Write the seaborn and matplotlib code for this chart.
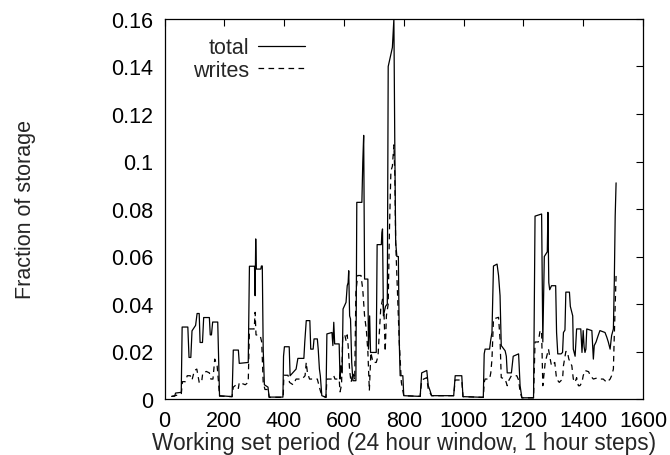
import matplotlib
matplotlib.use("Agg")
import matplotlib.pyplot as plt
import seaborn as sns
import pandas as pd

# Working set size per 24-hour window (sampled every hour), as a fraction of storage
total_hours = [
    24, 34, 37, 56,
    59, 78, 82, 88, 92, 104, 109, 116, 119, 127, 131, 150, 153, 157, 161, 178, 184, 226,
    230, 247, 250, 280,
    284, 301, 303, 305, 307, 322, 324, 327, 330, 334, 346, 350, 396,
    398, 401, 417, 420, 440, 446, 466, 469, 474, 486, 489, 497, 500, 511, 514, 518, 521, 526, 540,
    543, 560, 563, 566, 569, 584, 587, 590, 594, 597, 607, 611, 614, 616, 619, 622, 626, 630, 640,
    643, 660, 663, 666, 669, 680, 682, 686, 689, 708,
    711, 725, 727, 729, 732, 739, 745, 748, 755, 762, 767, 770, 773, 777, 782, 785, 788, 797, 800,
    855, 860, 877, 882, 888, 893, 967, 972, 994, 998, 1066,
    1069, 1072, 1087, 1091, 1095, 1100, 1112, 1117, 1122, 1126, 1139, 1143, 1146, 1160, 1166, 1184, 1189, 1195, 1234,
    1239, 1261, 1265, 1270, 1280, 1282, 1285, 1288, 1294, 1308, 1311, 1315, 1326, 1331, 1334, 1339, 1342, 1354,
    1357, 1362, 1365, 1367, 1373, 1378, 1392, 1396, 1400, 1403, 1406, 1409, 1412, 1429, 1434, 1437, 1443, 1450,
    1456, 1473, 1479, 1484, 1490, 1495, 1501, 1504, 1507, 1510,
]
total_frac = [
    .0011, .0012, .0025, .0028,
    .0303, .0303, .0175, .0175, .0287, .031, .036, .036, .0238, .0238, .0343, .0343, .027, .027, .0324, .0324, .0014, .001,
    .0206, .0206, .015, .0154,
    .0559, .0559, .0435, .0674, .0547, .0547, .056, .056, .021, .006, .005, .0008, .0008,
    .018, .022, .022, .0098, .0126, .0171, .0171, .0239, .033, .033, .021, .021, .0253, .0253, .021, .0126, .0098, .0014, .0007,
    .0274, .028, .0225, .0323, .0232, .0232, .0084, .014, .011, .0379, .0407, .0477, .049, .054, .035, .0337, .0154, .0077, .0077,
    .0828, .0828, .0996, .111, .0505, .0505, .021, .035, .0196, .0196,
    .065, .065, .070, .0716, .035, .039, .040, .140, .144, .148, .160, .108, .066, .060, .060, .024, .0098, .0098, .0014,
    .0011, .011, .012, .0056, .0035, .0014, .0014, .0098, .0098, .001, .0007,
    .019, .021, .021, .025, .028, .056, .0568, .052, .0435, .0225, .0203, .018, .011, .011, .018, .019, .0056, .0005, .0005,
    .077, .0779, .024, .060, .062, .0786, .049, .046, .0477, .0477, .028, .019, .019, .0196, .028, .029, .045, .045,
    .039, .0365, .035, .021, .018, .0295, .0295, .0196, .0288, .022, .0196, .021, .0295, .0288, .0168, .0225, .024, .0267,
    .0288, .028, .026, .024, .021, .0267, .0295, .049, .077, .091,
]

write_hours = [
    24, 56, 60, 70, 76, 86, 92, 100, 108, 116, 124, 128, 140, 150, 155, 162, 168, 176, 180, 184, 226,
    230, 240, 247, 250, 270, 280,
    284, 300, 303, 306, 320, 325, 330, 336, 346, 350, 397,
    399, 413, 418, 430, 440, 460, 470, 474, 478, 485, 500, 511, 520, 526, 540,
    543, 560, 566, 570, 584, 587, 592, 596, 603, 607, 611, 614, 619, 624, 630, 636, 640, 646, 657, 663,
    669, 675, 680, 685, 690, 697, 708, 714, 717, 723, 729, 734, 738, 742, 748, 752, 757, 762, 767, 770,
    773, 778, 785, 792, 800,
    855, 860, 877, 882, 893, 967, 972, 994, 998, 1066,
    1069, 1072, 1087, 1091, 1095, 1100, 1117, 1122, 1126, 1139, 1146, 1152, 1160, 1178, 1184, 1189, 1195, 1234,
    1239, 1250, 1256, 1261, 1265, 1273, 1284, 1288, 1294, 1305, 1311, 1320, 1331, 1334, 1342, 1347, 1352,
    1362, 1367, 1373, 1378, 1384, 1389, 1396, 1400, 1406, 1418, 1424, 1434, 1445, 1456, 1467, 1479, 1490,
    1495, 1501, 1504, 1510,
]
write_frac = [
    .0011, .002, .0073, .0073, .0098, .0098, .008, .012, .0126, .007, .007, .011, .0116, .011, .0084, .0084, .0168, .014, .008, .0012, .001,
    .005, .006, .0045, .007, .006, .007,
    .0295, .0295, .0365, .027, .0267, .024, .007, .004, .004, .0007, .0007,
    .010, .010, .007, .006, .0084, .0084, .0098, .0154, .011, .0084, .0084, .0084, .004, .0014, .0007,
    .0084, .0084, .0098, .0084, .0084, .003, .006, .027, .027, .0245, .027, .0225, .012, .007, .011, .008, .045, .052, .052, .046,
    .035, .029, .020, .0035, .0196, .0154, .0154, .018, .025, .038, .042, .036, .020, .035, .040, .070, .096, .098, .107, .095,
    .066, .049, .024, .007, .0014,
    .0011, .008, .009, .004, .0014, .0014, .008, .008, .001, .0007,
    .007, .0084, .0084, .011, .0168, .0337, .0344, .025, .009, .0084, .0056, .008, .0098, .0098, .008, .003, .0005, .0005,
    .024, .024, .029, .028, .0056, .0154, .021, .018, .014, .0154, .0084, .007, .0084, .014, .020, .020, .0168,
    .014, .0084, .007, .009, .0056, .0056, .007, .0098, .012, .0115, .0098, .0084, .0088, .0084, .0084, .007, .0084,
    .0098, .0126, .0267, .052,
]

x_ticks = [0, 200, 400, 600, 800, 1000, 1200, 1400, 1600]
y_ticks = [0, 0.02, 0.04, 0.06, 0.08, 0.1, 0.12, 0.14, 0.16]
y_tick_labels = ["0", "0.02", "0.04", "0.06", "0.08", "0.1", "0.12", "0.14", "0.16"]

FS = 15.5
LABEL_FS = 16.3

sns.set_style("white")
plt.rcParams["font.family"] = ["Liberation Sans", "DejaVu Sans"]
plt.rcParams["font.size"] = FS

fig = plt.figure(figsize=(6.7, 4.56), dpi=100)
ax = fig.add_axes([164.5 / 670, 1 - 400 / 456, 478.5 / 670, 380 / 456])

total_df = pd.DataFrame({"period": total_hours, "fraction": total_frac})
write_df = pd.DataFrame({"period": write_hours, "fraction": write_frac})

sns.lineplot(data=total_df, x="period", y="fraction", ax=ax, color="black",
             linewidth=0.9, estimator=None, sort=False, label="total")
sns.lineplot(data=write_df, x="period", y="fraction", ax=ax, color="black",
             linewidth=0.9, estimator=None, sort=False, label="writes",
             linestyle=(0, (4.5, 3.5)))

ax.set_xlim(0, 1600)
ax.set_ylim(0, 0.16)
ax.set_xticks(x_ticks)
ax.set_xticklabels([str(t) for t in x_ticks])
ax.set_yticks(y_ticks)
ax.set_yticklabels(y_tick_labels)
ax.tick_params(axis="both", which="major", direction="in", length=5, width=0.8,
               top=True, right=True, labelsize=FS, colors="black")
ax.tick_params(axis="x", pad=8)
ax.tick_params(axis="y", pad=8)
for sp in ax.spines.values():
    sp.set_visible(True)
    sp.set_color("black")
    sp.set_linewidth(0.9)

ax.set_xlabel("Working set period (24 hour window, 1 hour steps)", fontsize=LABEL_FS)
ax.set_ylabel("Fraction of storage", fontsize=FS)
ax.xaxis.set_label_coords(0.5005, -0.085)
ax.yaxis.set_label_coords(-0.268, 0.5)

ax.legend(loc="upper right", bbox_to_anchor=(0.294, 0.952), frameon=False,
          markerfirst=False, fontsize=FS, handlelength=2.2, handletextpad=0.4,
          borderpad=0, borderaxespad=0, labelspacing=0.08)

fig.savefig("out.png", dpi=100, facecolor="white")
